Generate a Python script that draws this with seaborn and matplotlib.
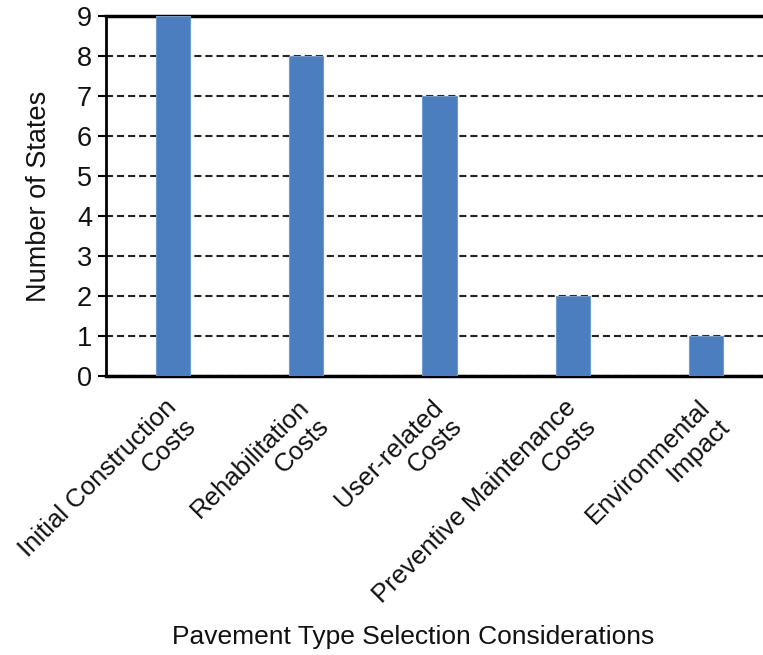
import matplotlib
matplotlib.use("Agg")
import matplotlib.pyplot as plt
import matplotlib.transforms as mtransforms
import seaborn as sns
import pandas as pd

categories = [
    "Initial Construction\nCosts",
    "Rehabilitation\nCosts",
    "User-related\nCosts",
    "Preventive Maintenance\nCosts",
    "Environmental\nImpact",
]
num_states = [9, 8, 7, 2, 1]
y_ticks = [0, 1, 2, 3, 4, 5, 6, 7, 8, 9]

df = pd.DataFrame({"consideration": categories, "states": num_states})

sns.set_theme(style="white")
plt.rcParams["font.family"] = ["Liberation Sans", "DejaVu Sans"]

fig = plt.figure(figsize=(7.63, 6.55), dpi=100)
ax = fig.add_axes([106 / 763, 279 / 655, 667 / 763, 360 / 655])

sns.barplot(data=df, x="consideration", y="states", ax=ax,
            color="#4a7ebe", saturation=1, width=0.255,
            edgecolor="#6d9bd3", linewidth=0.8, zorder=3)

ax.set_xlim(-0.5, 4.5)
ax.set_ylim(0, 9)
ax.set_yticks(y_ticks)
ax.yaxis.grid(True, linestyle=(0, (3.4, 1.9)), color="#222222", linewidth=1.5, zorder=0)
ax.set_axisbelow(True)

for side in ["left", "bottom", "top"]:
    ax.spines[side].set_visible(True)
    ax.spines[side].set_color("black")
ax.spines["left"].set_linewidth(2.0)
ax.spines["bottom"].set_linewidth(2.5)
ax.spines["top"].set_linewidth(2.5)
ax.spines["right"].set_visible(False)

ax.tick_params(axis="y", which="major", left=True, length=6, width=1.5,
               color="black", labelsize=19.5, pad=4, labelcolor="#111111")
ax.tick_params(axis="x", which="major", bottom=False, length=0,
               labelsize=18.5, pad=10, labelcolor="#111111")

# nudge the rotated category labels slightly left and down
shift = mtransforms.ScaledTranslation(-9 / 100, -5 / 100, fig.dpi_scale_trans)
for lbl in ax.get_xticklabels():
    lbl.set_rotation(45)
    lbl.set_ha("right")
    lbl.set_va("top")
    lbl.set_rotation_mode("anchor")
    lbl.set_multialignment("right")
    lbl.set_transform(lbl.get_transform() + shift)

ax.set_xlabel("Pavement Type Selection Considerations", fontsize=19,
              color="#111111")
ax.set_ylabel("Number of States", fontsize=19.5, color="#111111")
ax.xaxis.set_label_coords((413 - 106) / 667, -(625 - 376) / 360)
ax.yaxis.set_label_coords((52 - 106) / 667, 0.5)

fig.savefig("out.png", dpi=100)
